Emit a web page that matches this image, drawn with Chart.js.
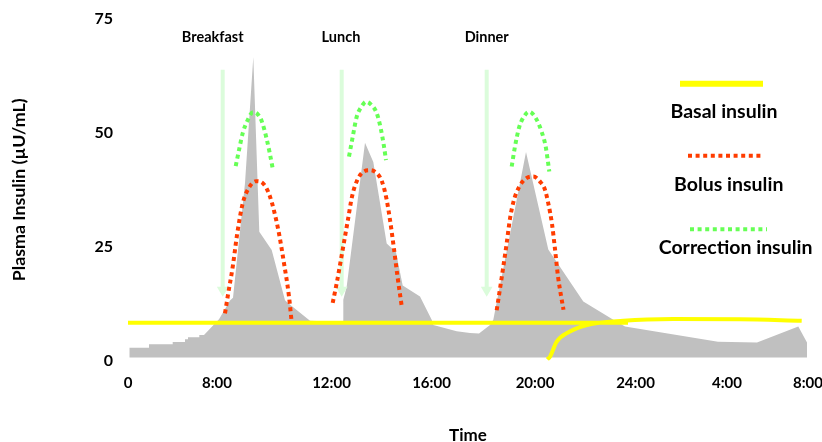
<!DOCTYPE html>
<html><head><meta charset="utf-8">
<script src="https://cdn.jsdelivr.net/npm/chart.js@4/dist/chart.umd.min.js"></script>
<style>html,body{margin:0;padding:0;background:#fff;}#wrap{width:822px;height:442px;}</style>
</head><body><div id="wrap"><canvas id="c" width="822" height="442"></canvas></div>
<script>
// x = position along the drawn time axis (axis units), y = plasma insulin (µU/mL)
const tickLabels = ['0', '8:00', '12:00', '16:00', '20:00', '24:00', '4:00', '8:00'];
const tickPositions = [0, 8.9, 20.35, 30.35, 40.7, 50.75, 59.9, 68];
const yTicks = [0, 25, 50, 75];

const mealNames = ['Breakfast', 'Lunch', 'Dinner'];
const mealLabelX = [8.47, 21.3, 35.87];
const mealLabelY = 71.0;
const mealArrowX = [9.47, 21.37, 35.87];
const arrowTop = 63.8;
const arrowHead = 15.5;

const plasma = [[0.13,2.87],[2.1,2.87],[2.1,3.62],[4.47,3.62],[4.47,4.12],[5.7,4.12],[5.7,4.72],[6.0,4.72],[6.0,5.15],[7.13,5.15],[7.13,5.66],[7.6,5.66],[9.1,9.1],[10.2,13.2],[10.5,13.8],[11.7,39],[12.53,66.6],[13.13,28.3],[14.37,24.3],[15.7,13.3],[16.03,12.6],[18.2,8.8],[21.5,8.5],[21.53,13.4],[21.87,16.3],[23.7,47.8],[24.53,43.6],[25.87,25.7],[26.8,23.8],[27.47,16.5],[29.2,14.1],[30.37,9.0],[30.53,7.85],[32.87,6.5],[34.2,6.1],[35.1,6.0],[36.2,7.85],[36.53,9.0],[39.8,45.8],[42.03,24.4],[45.53,13.0],[48.53,9.0],[49.7,7.5],[59.0,4.2],[62.9,4.0],[67.03,7.5],[67.9,4.0]];
const plasmaBase = 0.7;

const basalFlat = [[0,8.36],[50,8.36]];
const basalCurve = [[41.93,0.3],[42.2,0.9],[42.87,4.19],[44.0,6.2],[45.9,7.85],[49.53,8.79],[54.53,9.17],[61.2,9.12],[67.37,8.79]];

const bolusBreakfast = [[9.7,10.4],[10.0,14.5],[10.47,20.6],[10.93,28],[11.47,34.5],[12.0,37.6],[12.8,39.4],[13.5,38.9],[14.2,36.0],[15.03,28.7],[15.6,21.4],[16.1,14.1],[16.37,8.4]];
const bolusLunch = [[20.47,12.7],[20.87,17.0],[21.2,21.0],[21.6,26.0],[22.0,31.0],[22.4,36.0],[22.9,39.5],[23.5,41.4],[24.2,41.8],[24.9,41.1],[25.4,39.3],[25.85,35.5],[26.2,30.9],[26.6,24.5],[26.95,18.5],[27.37,12.0]];
const bolusDinner = [[36.87,11.1],[37.13,14.8],[37.5,20.2],[37.87,25.8],[38.2,31.2],[38.6,35.3],[39.13,38.2],[39.8,40.0],[40.53,40.4],[41.2,39.3],[41.7,37.5],[42.05,34.3],[42.4,30.0],[42.7,24.5],[43.0,18.5],[43.3,14.3],[43.55,11.2]];

const corrBreakfast = [[10.77,42.7],[11.1,46.2],[11.47,49.9],[11.97,52.8],[12.5,54.5],[13.0,54.0],[13.4,52.4],[13.85,48.8],[14.15,45.8],[14.47,42.2]];
const corrLunch = [[22.1,44.8],[22.47,49.1],[22.87,53.5],[23.37,55.8],[23.8,56.8],[24.3,56.2],[24.87,54.3],[25.27,51.0],[25.6,47.0],[25.8,44.0]];
const corrDinner = [[38.37,42.6],[38.7,47.0],[39.13,51.3],[39.7,53.9],[40.1,54.6],[40.7,53.5],[41.37,50.2],[41.77,46.95],[42.13,41.5]];

const FONT = 'Lato, "Open Sans", "DejaVu Sans", sans-serif';
const pts = a => a.map(p => ({x: p[0], y: p[1]}));
const gap = x => ({x: x, y: null});
const joinSegments = segs => {
  const out = [];
  segs.forEach((s, i) => {
    if (i > 0) out.push(gap((segs[i-1][segs[i-1].length-1][0] + s[0][0]) / 2));
    out.push(...pts(s));
  });
  return out;
};

const arrowData = [];
mealArrowX.forEach((x, i) => {
  if (i > 0) arrowData.push(gap((mealArrowX[i-1] + x) / 2));
  arrowData.push({x: x, y: arrowTop}, {x: x, y: arrowHead});
});

const legendItems = [
  {ds: 2, line: [680, 763, 83.7], text: [724, 111.7]},
  {ds: 0, line: [688, 764, 155.7], text: [728.7, 185]},
  {ds: 1, line: [690, 767, 229.3], text: [735.6, 247.7]}
];

const annotations = {
  id: 'annotations',
  afterDraw(chart) {
    const ctx = chart.ctx;
    const xs = chart.scales.x, ys = chart.scales.y;
    ctx.save();
    ctx.fillStyle = '#000';
    ctx.textAlign = 'center';
    ctx.textBaseline = 'middle';
    ctx.font = 'bold 14.5px ' + FONT;
    mealNames.forEach((n, i) => {
      ctx.fillText(n, xs.getPixelForValue(mealLabelX[i]), ys.getPixelForValue(mealLabelY));
    });
    ctx.font = 'bold 19.5px ' + FONT;
    legendItems.forEach(it => {
      const ds = chart.data.datasets[it.ds];
      ctx.save();
      ctx.strokeStyle = ds.borderColor;
      ctx.lineWidth = it.ds === 2 ? 6 : ds.borderWidth;
      ctx.setLineDash(ds.borderDash || []);
      ctx.lineCap = 'butt';
      ctx.beginPath();
      ctx.moveTo(it.line[0], it.line[2]);
      ctx.lineTo(it.line[1], it.line[2]);
      ctx.stroke();
      ctx.restore();
      ctx.fillText(ds.label, it.text[0], it.text[1]);
    });
    ctx.restore();
  }
};

new Chart(document.getElementById('c'), {
  type: 'line',
  data: {
    datasets: [
      {label: 'Bolus insulin', data: joinSegments([bolusBreakfast, bolusLunch, bolusDinner]), borderColor: '#ff3c00', borderWidth: 4, borderDash: [4, 3.6], cubicInterpolationMode: 'monotone', pointRadius: 0, fill: false, order: 1},
      {label: 'Correction insulin', data: joinSegments([corrBreakfast, corrLunch, corrDinner]), borderColor: '#66ff55', borderWidth: 4, borderDash: [4, 3.6], cubicInterpolationMode: 'monotone', pointRadius: 0, fill: false, order: 1},
      {label: 'Basal insulin', data: joinSegments([basalFlat, basalCurve]), borderColor: '#ffff00', borderWidth: 4, cubicInterpolationMode: 'monotone', pointRadius: 0, fill: false, order: 2},
      {label: 'Meals', data: arrowData, borderColor: '#dbfcdb', backgroundColor: '#dbfcdb', borderWidth: 4, tension: 0, fill: false,
        pointStyle: 'triangle', rotation: 180, borderCapStyle: 'butt',
        pointRadius: c => (c.raw && c.raw.y === arrowHead ? 6.75 : 0), pointBorderWidth: 0, pointBackgroundColor: '#dbfcdb', order: 3},
      {label: 'Plasma insulin', data: pts(plasma), borderWidth: 0, borderColor: 'rgba(0,0,0,0)', backgroundColor: '#c0c0c0', tension: 0, pointRadius: 0, fill: {value: plasmaBase}, order: 4}
    ]
  },
  options: {
    responsive: false,
    animation: false,
    devicePixelRatio: 1,
    layout: {padding: {top: 18.8, right: 14, left: 0, bottom: 0}},
    plugins: {legend: {display: false}, tooltip: {enabled: false}},
    scales: {
      x: {
        type: 'linear', min: 0, max: 68,
        afterBuildTicks: s => { s.ticks = tickPositions.map(v => ({value: v})); },
        grid: {display: false, drawTicks: false}, border: {display: false},
        ticks: {autoSkip: false, maxRotation: 0, padding: 13, color: '#000',
          font: {family: FONT, size: 15, weight: 'bold'},
          callback: (v, i) => tickLabels[i]},
        title: {display: true, text: 'Time', color: '#000', font: {family: FONT, size: 17, weight: 'bold', lineHeight: 0.8}, padding: {top: 0, bottom: 0}},
        afterFit: s => { s.height = 81.2; s.paddingLeft = 0; s.paddingRight = 0; }
      },
      y: {
        min: 0, max: 75,
        afterBuildTicks: s => { s.ticks = yTicks.map(v => ({value: v})); },
        grid: {display: false, drawTicks: false}, border: {display: false},
        ticks: {padding: 15, color: '#000', font: {family: FONT, size: 16, weight: 'bold'}},
        title: {display: true, text: 'Plasma Insulin (µU/mL)', color: '#000', font: {family: FONT, size: 17.8, weight: 'bold'}, padding: {top: 8.8, bottom: 0}},
        afterFit: s => { s.width = 128; s.paddingTop = 0; s.paddingBottom = 0; }
      }
    }
  },
  plugins: [annotations]
});
</script>
</body></html>
